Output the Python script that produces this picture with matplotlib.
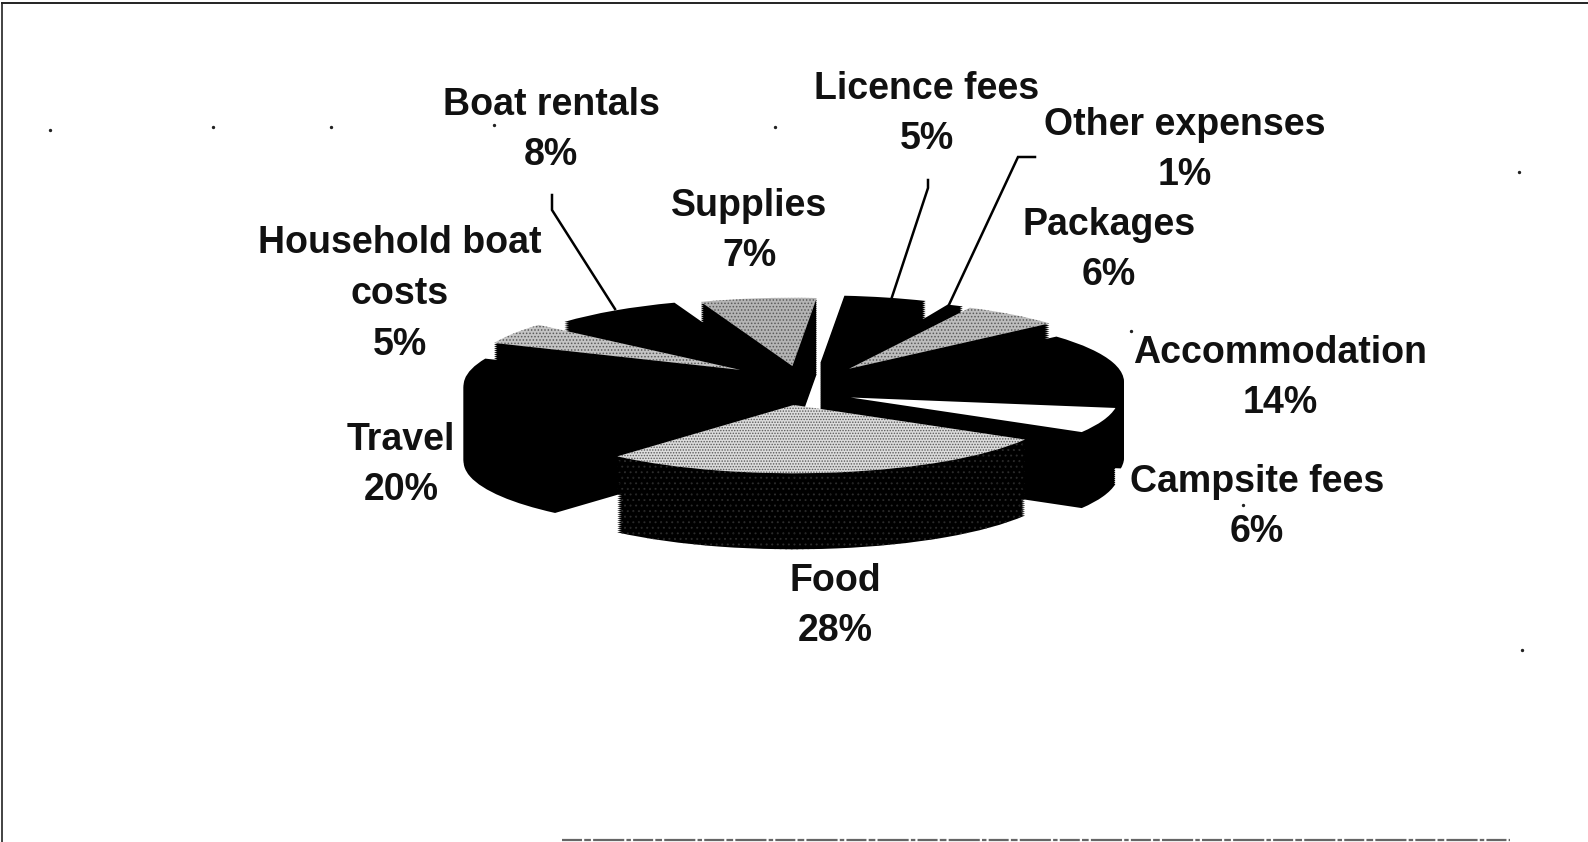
import matplotlib
matplotlib.use("Agg")
import matplotlib.pyplot as plt

plt.rcParams['font.family'] = ['Liberation Sans', 'DejaVu Sans']
plt.rcParams['hatch.linewidth'] = 0.7

# ---- data -------------------------------------------------------------
categories = ["Supplies", "Licence fees", "Other expenses", "Packages",
              "Accommodation", "Campsite fees", "Food", "Travel",
              "Household boat\ncosts", "Boat rentals"]
shares = [7, 5, 1, 6, 14, 6, 28, 20, 5, 8]

# ---- style / layout ----------------------------------------------------
explode = [0.22, 0.26, 0.3, 0.3, 0.21, 0.24, 0.37, 0.3, 0.36, 0.25]
nudge_px = [(0, 0), (3, 0), (8, 5), (0, 4), (2, 5),
            (-10, 11), (-22, -1), (10, 0), (22, 2), (4, 0)]
top_colors = ['#b4b4b4', '#000000', '#000000', '#bdbdbd', '#000000',
              '#ffffff', '#dcdcdc', '#000000', '#c4c4c4', '#000000']
top_hatch = ['.....', None, None, '.....', None, None, '......', None, '.....', None]
side_hatch = [None, None, None, None, None, None, '...', None, None, None]
label_xy = [(749, 231), (927, 114), (1185, 150), (1109, 250), (1280, 378),
            (1257, 507), (835, 606), (401, 465), (400, 294), (551, 130)]
leaders = [([552, 552, 615], [195, 210, 309]),
           ([928, 928, 891], [180, 188, 300]),
           ([1035, 1018, 947], [157, 157, 309])]
specks = [(50, 130), (213, 127), (775, 127), (494, 125), (331, 127),
          (1519, 172), (1522, 650), (1131, 331), (1243, 505)]

W, H = 1588, 842
CX, CY = 800, 381      # pie centre of the top face, pixels
R, K = 268, 0.255      # radius and vertical squash
DEPTH = 76
START = 110

fig = plt.figure(figsize=(W / 100, H / 100), dpi=100, facecolor='white')

pie_ax = fig.add_axes([0, 0, 1, 1], zorder=1)
ry = R * K
for level in range(DEPTH, -1, -2):
    top = level == 0
    wedges, _ = pie_ax.pie(
        shares, explode=explode, startangle=START, counterclock=False,
        radius=1, center=(0, -level / ry), normalize=True,
        colors=top_colors if top else ['#000000'] * len(shares),
        wedgeprops={'linewidth': 0})
    for i, w in enumerate(wedges):
        cx, cy = w.center
        w.set_center((cx + nudge_px[i][0] / R, cy - nudge_px[i][1] / ry))
        pattern = top_hatch[i] if top else side_hatch[i]
        if pattern:
            w.set_hatch(pattern)
            w.set_edgecolor('#5a5a5a' if top else '#2c2c2c')
            w.set_linewidth(0)
pie_ax.set_aspect('auto')
pie_ax.set_xlim((0 - CX) / R, (W - CX) / R)
pie_ax.set_ylim((CY - H) / ry, CY / ry)
pie_ax.axis('off')

ov = fig.add_axes([0, 0, 1, 1], zorder=2)
ov.set_xlim(0, W)
ov.set_ylim(H, 0)
ov.axis('off')

for name, val, (x, y) in zip(categories, shares, label_xy):
    ov.text(x, y, f"{name}\n{val}%", ha='center', va='center', ma='center',
            fontsize=27, fontweight='bold', color='#111111', linespacing=1.53)

for xs, ys in leaders:
    ov.plot(xs, ys, color='black', lw=1.8, solid_joinstyle='miter')

ov.plot([x for x, _ in specks], [y for _, y in specks], ls='none',
        marker='o', ms=1.4, color='#222222')

# scanned page frame
ov.plot([2, 2], [3, H], color='#222222', lw=1.2)
ov.plot([2, W], [3, 3], color='#222222', lw=1.4)
ov.plot([562, 1510], [H - 2, H - 2], color='#666666', lw=1.6,
        dashes=(9, 1, 3, 1, 14, 1, 2, 1))

fig.savefig('out.png', dpi=100, facecolor='white')
